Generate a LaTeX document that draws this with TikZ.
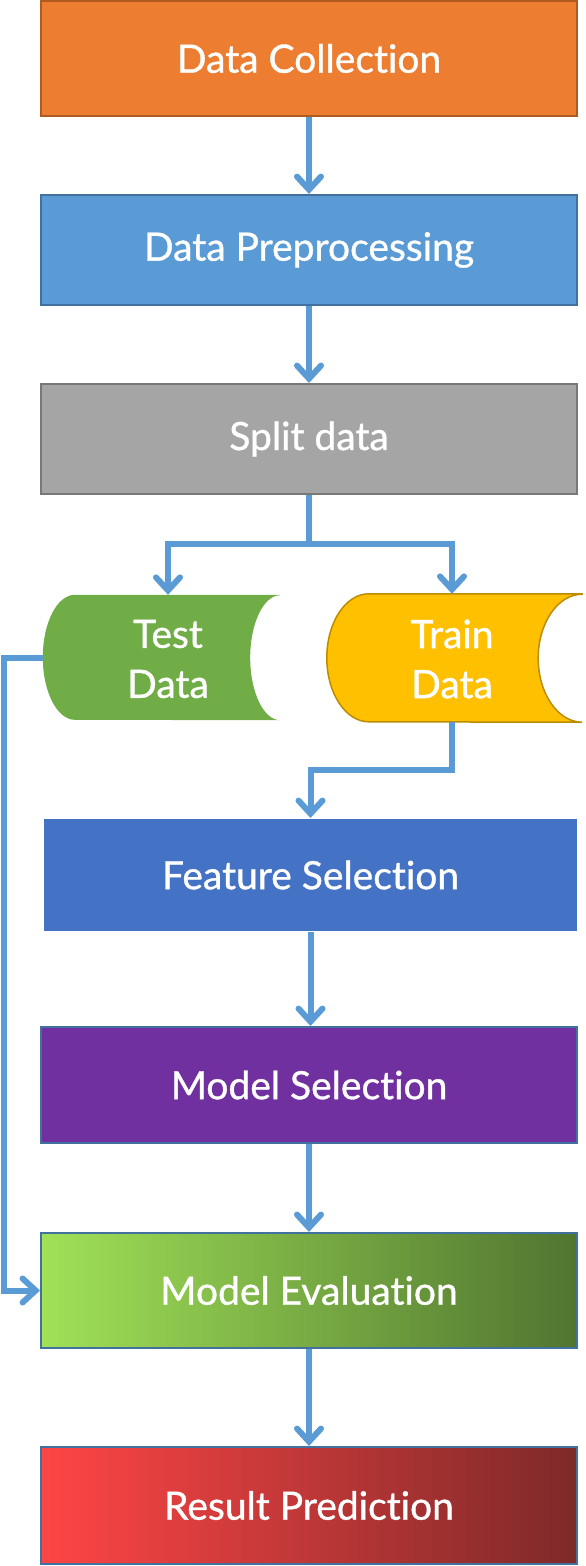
\documentclass[tikz,border=0pt]{standalone}
\usepackage{fontspec}
\setmainfont{Lato}[FakeBold=0.9,Ligatures=NoCommon]
\usetikzlibrary{arrows.meta,calc}
\definecolor{cOrange}{HTML}{ED7D31}
\definecolor{cOrangeD}{HTML}{AE5A21}
\definecolor{cBlue}{HTML}{5B9BD5}
\definecolor{cBlueD}{HTML}{41719C}
\definecolor{cGray}{HTML}{A5A5A5}
\definecolor{cGrayD}{HTML}{787878}
\definecolor{cFeat}{HTML}{4472C4}
\definecolor{cPurple}{HTML}{7030A0}
\definecolor{cGreen}{HTML}{70AD47}
\definecolor{cYellow}{HTML}{FFC000}
\definecolor{cYellowD}{HTML}{BC8C00}
\definecolor{cEvalL}{HTML}{A0E157}
\definecolor{cEvalM}{HTML}{8CC84C}
\definecolor{cEvalR}{HTML}{507530}
\definecolor{cResL}{HTML}{FF4545}
\definecolor{cResM}{HTML}{D83E3E}
\definecolor{cResR}{HTML}{7E2929}
\definecolor{lineblue}{HTML}{5B9BD5}
\begin{document}
\begin{tikzpicture}[x=1pt,y=1pt,
  lbl/.style={text=white, font=\fontsize{39}{50}\selectfont, align=center, inner sep=0pt},
  box/.style={rectangle, minimum width=536pt, inner sep=0pt, line width=2pt, lbl},
  frame/.style={rectangle, inner sep=0pt},
  wire/.style={draw=lineblue, line width=6pt},
  conn/.style={wire, -{Straight Barb[length=13pt,width=24pt,line cap=round]}},
]
\useasboundingbox (0,0) rectangle (586,-1566);

\node[box, fill=cOrange, draw=cOrangeD, minimum height=115pt] (dc) at (309,-58.5) {Data Collection};
\node[box, fill=cBlue, draw=cBlueD, minimum height=110pt] (dp) at (309,-250) {Data Preprocessing};
\node[box, fill=cGray, draw=cGrayD, minimum height=110pt] (sd) at (309,-439) {Split data};
\node[box, fill=cFeat, minimum width=533pt, minimum height=112pt] (fs) at (310.5,-875) {Feature Selection};
\node[box, fill=cPurple, draw=cBlueD, minimum height=116pt] (ms) at (309,-1085) {Model Selection};
\node[box, left color=cEvalL, middle color=cEvalM, right color=cEvalR, draw=cBlueD, minimum height=115pt] (me) at (309,-1290.5) {Model Evaluation};
\node[box, left color=cResL, middle color=cResM, right color=cResR, draw=cBlueD, minimum height=117pt] (rp) at (309,-1505.5) {Result Prediction};

% Test data (stored data shape)
\node[frame, minimum width=237pt, minimum height=125pt] (test) at (161.5,-657.5) {};
\fill[cGreen] (test.north east) -- ($(test.north west)+(32,0)$)
  arc[start angle=90,end angle=270,x radius=32,y radius=62.5]
  -- (test.south east)
  arc[start angle=-90,end angle=-270,x radius=30,y radius=62.5] -- cycle;
\node[lbl] (testtxt) at (168,-659) {Test\\Data};

% Train data (stored data shape)
\node[frame, minimum width=255pt, minimum height=128pt] (train) at (454.5,-658) {};
\filldraw[fill=cYellow, draw=cYellowD, line width=1.5pt] (train.north east) -- ($(train.north west)+(42,0)$)
  arc[start angle=90,end angle=270,x radius=42,y radius=64]
  -- (train.south east)
  arc[start angle=-90,end angle=-270,x radius=44,y radius=64] -- cycle;
\node[lbl] (traintxt) at (452,-659) {Train\\Data};

% connectors
\draw[conn] (dc.south) -- (dp.north);
\draw[conn] (dp.south) -- (sd.north);
\coordinate (br) at ($(sd.south)+(0,-49)$);
\draw[wire] (sd.south) -- (br);
\draw[conn] (br) -| (test.north -| testtxt);
\draw[conn] (br) -| (train.north -| traintxt);
\draw[conn] (train.south -| traintxt) -- ++(0,-48) -| (fs.north);
\draw[conn] (fs.south) -- (fs.south |- ms.north);
\draw[conn] (ms.south) -- (me.north);
\draw[conn] (me.south) -- (rp.north);
\draw[conn] (test.west) -- ++(-39,0) |- (me.west);
\end{tikzpicture}
\end{document}
